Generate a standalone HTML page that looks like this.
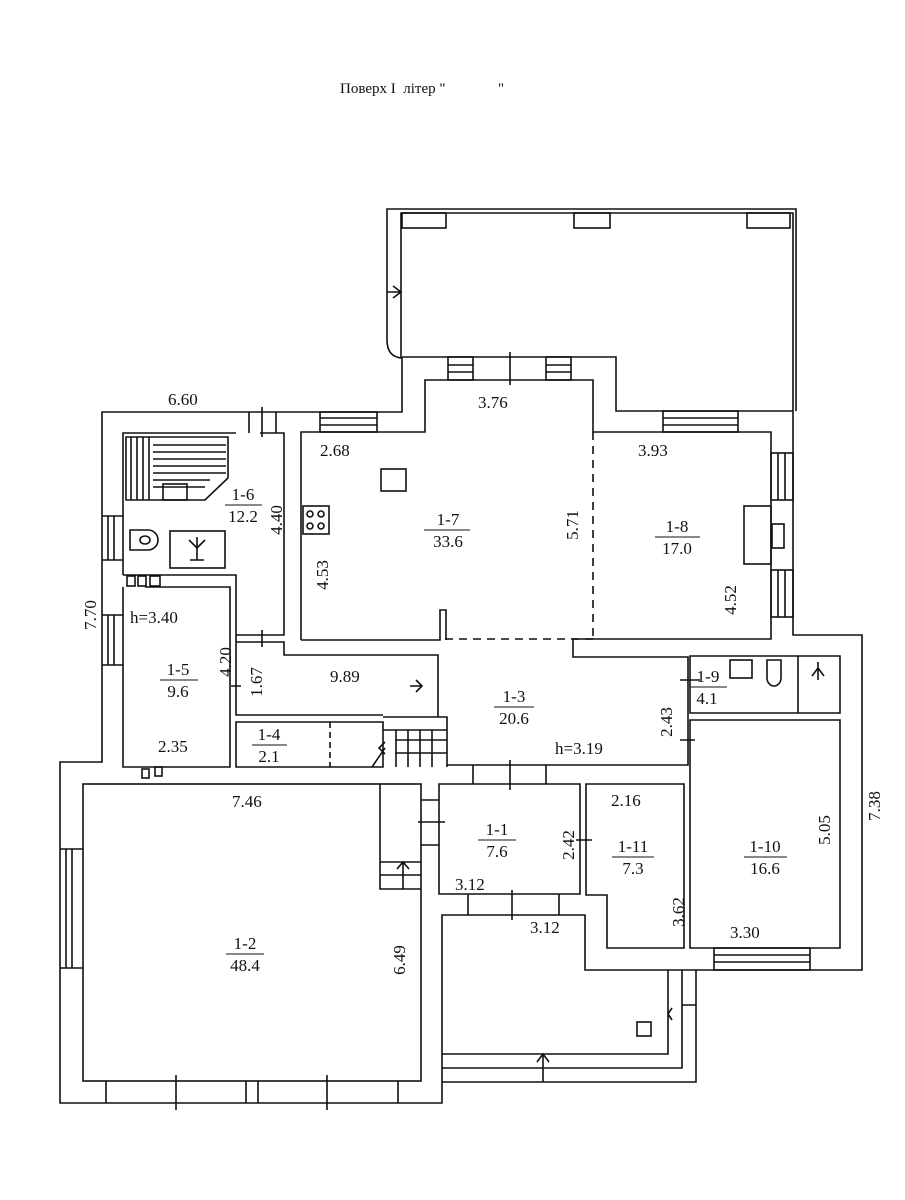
<!DOCTYPE html>
<html><head><meta charset="utf-8"><style>
html,body{margin:0;padding:0;background:#fff}
svg{display:block}
text{font-family:"Liberation Serif",serif;fill:#111}
</style></head><body>
<svg width="905" height="1200" viewBox="0 0 905 1200" xmlns="http://www.w3.org/2000/svg">
<text x="340" y="93" font-size="15" xml:space="preserve">Поверх I&#160; літер "&#160;&#160;&#160;&#160;&#160;&#160;&#160;&#160;&#160;&#160;&#160;&#160;&#160;&#160;"</text>
<g fill="none" stroke="#111" stroke-width="1.6">
<path d="M387,340 L387,209 L796,209 L796,411"/>
<path d="M401,358 L401,213 L793,213 L793,411"/>
<path d="M387,340 Q387,357 402,358"/>
<rect x="402" y="213" width="44" height="15"/><rect x="574" y="213" width="36" height="15"/><rect x="747" y="213" width="43" height="15"/>
<path d="M387,292 L401,292 M393,286 L401,292 L393,298"/>
<path d="M402,357 L616,357 L616,411 L793,411 L793,635 L862,635 L862,970 L585,970 L585,915 L442,915 L442,1103 L60,1103 L60,762 L102,762 L102,412 L402,412 L402,357"/>
<path d="M301,640 L301,432 L425,432 L425,380 L593,380 L593,432 L771,432 L771,639 L573,639 L573,657 L688,657 L688,765 L447,765"/>
<path d="M593,432 L593,639 M445,639 L593,639" stroke-dasharray="8,6"/>
<path d="M301,640 L440,640 L440,610 L446,610 L446,640"/>
<path d="M123,575 L123,433 L236,433 M260,433 L284,433 L284,635 L236,635"/>
<path d="M126,437 L228,437 L228,478 L205,500 L126,500 Z"/>
<path d="M131,437 V500 M137,437 V500 M143,437 V500 M149,437 V500 M153,445 H226 M153,452 H226 M153,459 H226 M153,466 H226 M153,473 H226 M153,480 H210 M153,487 H205"/>
<rect x="163" y="484" width="24" height="16"/>
<rect x="170" y="531" width="55" height="37"/>
<path d="M197,537 V560 M189,540 L197,548 L205,540 M190,560 H204"/>
<path d="M130,530 h18 a6,6 0 0 1 0,20 h-18 z"/><ellipse cx="145" cy="540" rx="5" ry="4"/>
<path d="M123,587 L123,767 L230,767 L230,587 L145,587 M123,575 L236,575 L236,642"/>
<rect x="127" y="576" width="8" height="10"/><rect x="138" y="576" width="8" height="10"/><rect x="150" y="576" width="10" height="10"/>
<path d="M102,516 L123,516 M102,560 L123,560 M108,516 V560 M114,516 V560"/>
<path d="M102,615 L123,615 M102,665 L123,665 M108,615 V665 M114,665 V615"/>
<path d="M236,642 L284,642 L284,655 L438,655 L438,717 M236,642 L236,715 L383,715 M236,722 L383,722 L383,767 L236,767 Z"/>
<path d="M330,722 V767" stroke-dasharray="6,4"/>
<path d="M383,717 L447,717 L447,767 M383,730 H447 M396,730 V767 M408,730 V767 M420,730 V767 M432,730 V767 M395,740 H447 M395,753 H447 M385,748 L372,767 M385,742 L379,748 L385,754"/>
<path d="M410,686 H422 M416,680 L422,686 L416,692"/>
<path d="M262,407 V437 M249,412 V433 M276,412 V433 M231,686 H241 M262,630 V647"/>
<rect x="320" y="412" width="57" height="20"/><path d="M320,418 H377 M320,425 H377"/>
<rect x="448" y="357" width="25" height="23"/><rect x="546" y="357" width="25" height="23"/><path d="M448,365 H473 M448,372 H473 M546,365 H571 M546,372 H571 M510,352 V385"/>
<rect x="663" y="411" width="75" height="21"/><path d="M663,418 H738 M663,425 H738"/>
<rect x="771" y="453" width="22" height="47"/><rect x="771" y="570" width="22" height="47"/><path d="M778,453 V500 M785,453 V500 M778,570 V617 M785,570 V617"/>
<rect x="744" y="506" width="27" height="58"/><rect x="772" y="524" width="12" height="24"/>
<rect x="381" y="469" width="25" height="22"/><rect x="303" y="506" width="26" height="28"/>
<circle cx="310" cy="514" r="3"/><circle cx="321" cy="514" r="3"/><circle cx="310" cy="526" r="3"/><circle cx="321" cy="526" r="3"/>
<path d="M690,656 L840,656 L840,713 L690,713 Z M690,720 L840,720 L840,948 L690,948 Z M798,656 V713"/>
<rect x="730" y="660" width="22" height="18"/><path d="M767,660 h14 v18 a7,8 0 0 1 -14,0 z"/>
<path d="M818,662 V680 M812,676 L818,668 L824,676"/>
<path d="M680,680 H700 M680,740 H695"/>
<rect x="714" y="948" width="96" height="22"/><path d="M714,955 H810 M714,962 H810"/>
<path d="M439,784 L580,784 L580,894 L439,894 Z M586,784 L684,784 L684,948 L607,948 L607,895 L586,895 Z"/>
<path d="M473,765 V784 M546,765 V784 M510,760 V790 M576,840 H592 M468,894 V915 M512,890 V920 M559,894 V915"/>
<path d="M421,800 L439,800 M421,845 L439,845 M418,822 H445"/>
<rect x="83" y="784" width="338" height="297"/>
<path d="M60,849 H83 M60,968 H83 M66,849 V968 M72,849 V968"/>
<path d="M106,1081 V1103 M246,1081 V1103 M258,1081 V1103 M398,1081 V1103 M176,1075 V1110 M327,1075 V1110"/>
<path d="M380,784 V889 H421 M380,862 H421 M380,875 H421 M403,862 V889 M397,869 L403,862 L409,869"/>
<rect x="142" y="769" width="7" height="9"/><rect x="155" y="767" width="7" height="9"/>
<path d="M668,970 V1054 H442 M682,970 V1068 H442 M696,970 V1082 H442 M682,1005 H696 M672,1008 L668,1014 L672,1020 M543,1054 V1082 M537,1062 L543,1054 L549,1062"/>
<rect x="637" y="1022" width="14" height="14"/>
</g>
<g font-size="17">
<text x="168" y="405">6.60</text>
<text x="478" y="408">3.76</text>
<text x="320" y="456">2.68</text>
<text x="638" y="456">3.93</text>
<text x="232" y="807">7.46</text>
<text x="158" y="752">2.35</text>
<text x="330" y="682">9.89</text>
<text x="555" y="754">h=3.19</text>
<text x="130" y="623">h=3.40</text>
<text x="611" y="806">2.16</text>
<text x="455" y="890">3.12</text>
<text x="530" y="933">3.12</text>
<text x="730" y="938">3.30</text>
<text transform="translate(282,520) rotate(-90)" text-anchor="middle">4.40</text>
<text transform="translate(328,575) rotate(-90)" text-anchor="middle">4.53</text>
<text transform="translate(578,525) rotate(-90)" text-anchor="middle">5.71</text>
<text transform="translate(736,600) rotate(-90)" text-anchor="middle">4.52</text>
<text transform="translate(231,662) rotate(-90)" text-anchor="middle">4.20</text>
<text transform="translate(262,682) rotate(-90)" text-anchor="middle">1.67</text>
<text transform="translate(96,615) rotate(-90)" text-anchor="middle">7.70</text>
<text transform="translate(672,722) rotate(-90)" text-anchor="middle">2.43</text>
<text transform="translate(574,845) rotate(-90)" text-anchor="middle">2.42</text>
<text transform="translate(684,912) rotate(-90)" text-anchor="middle">3.62</text>
<text transform="translate(830,830) rotate(-90)" text-anchor="middle">5.05</text>
<text transform="translate(880,806) rotate(-90)" text-anchor="middle">7.38</text>
<text transform="translate(405,960) rotate(-90)" text-anchor="middle">6.49</text>
</g>
<g font-size="17" text-anchor="middle">
<text x="243" y="500">1-6</text><text x="243" y="522">12.2</text>
<text x="448" y="525">1-7</text><text x="448" y="547">33.6</text>
<text x="677" y="532">1-8</text><text x="677" y="554">17.0</text>
<text x="178" y="675">1-5</text><text x="178" y="697">9.6</text>
<text x="269" y="740">1-4</text><text x="269" y="762">2.1</text>
<text x="514" y="702">1-3</text><text x="514" y="724">20.6</text>
<text x="708" y="682">1-9</text><text x="707" y="704">4.1</text>
<text x="497" y="835">1-1</text><text x="497" y="857">7.6</text>
<text x="633" y="852">1-11</text><text x="633" y="874">7.3</text>
<text x="765" y="852">1-10</text><text x="765" y="874">16.6</text>
<text x="245" y="949">1-2</text><text x="245" y="971">48.4</text>
</g>
<g stroke="#111" stroke-width="1">
<path d="M225,505 H262 M424,530 H470 M655,537 H700 M160,680 H198 M252,745 H287 M494,707 H534 M690,687 H727 M478,840 H516 M612,857 H654 M744,857 H787 M226,954 H264"/>
</g>
</svg>
</body></html>
